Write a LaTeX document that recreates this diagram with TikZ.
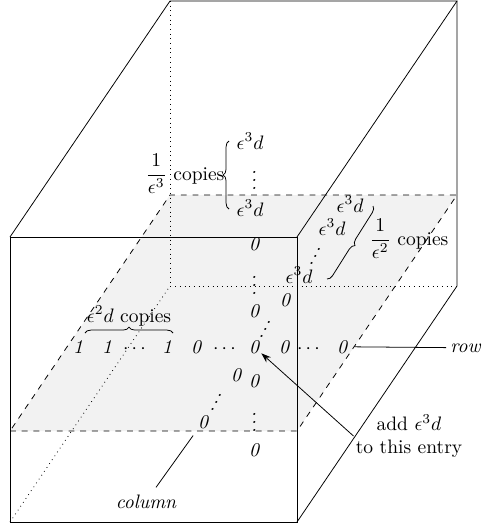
\documentclass[tikz,border=0pt]{standalone}
\usepackage{amsmath}
\usetikzlibrary{decorations.pathreplacing,arrows.meta}

\newcommand{\depthdots}{\hbox{.\kern-1.2pt\raise3.5pt\hbox{.}\kern-1.2pt\raise7pt\hbox{.}}}
\newcommand{\colvdots}{\vbox{\baselineskip4pt\lineskiplimit0pt\hbox{.}\hbox{.}\hbox{.}}}

\begin{document}
\begin{tikzpicture}[
    x=0.5128pt, y=-0.5128pt,
    cell/.style={anchor=base, inner sep=1pt, font=\itshape},
    lbl/.style={anchor=base, inner sep=1pt},
    hidden/.style={dotted},
    slab/.style={dashed},
    brace/.style={decorate, decoration={brace, amplitude=3pt}},
    arrow/.style={-{Stealth[length=5pt, width=3.5pt]}},
]
\useasboundingbox (0,0) rectangle (484,529);

% corners of the cube (front face, then back face)
\coordinate (fbl) at (10,522);
\coordinate (fbr) at (297,522);
\coordinate (ftr) at (297,237);
\coordinate (ftl) at (10,237);
\coordinate (bbl) at (170,286);
\coordinate (bbr) at (457,286);
\coordinate (btr) at (457,1);
\coordinate (btl) at (170,1);
% the slice
\coordinate (sfl) at (10,431);
\coordinate (sfr) at (297,431);
\coordinate (sbr) at (457,195);
\coordinate (sbl) at (170,195);

\fill[black!5] (sfl) -- (sfr) -- (sbr) -- (sbl) -- cycle;
\draw[hidden] (btl) -- (bbl) -- (bbr);
\draw[hidden] (fbl) -- (bbl);
\draw[slab] (sfl) -- (sfr) -- (sbr) -- (sbl) -- cycle;
\draw (fbl) rectangle (ftr);
\draw (ftl) -- (btl) -- (btr) -- (ftr);
\draw (btr) -- (bbr) -- (fbr);

% the row through the entry
\node[cell] (r1) at (78,353) {1};
\node[cell] (r2) at (107,353) {1};
\node[cell] (rd1) at (136,353) {$\cdots$};
\node[cell] (r3) at (167,353) {1};
\node[cell] (r4) at (196,353) {0};
\node[cell] (rd2) at (226,353) {$\cdots$};
\node[cell] (c0) at (254,353) {0};
\node[cell] (r5) at (284,353) {0};
\node[cell] (rd3) at (310,353) {$\cdots$};
\node[cell] (r6) at (342,353) {0};

% straight up and down
\node[cell] (u1) at (254,317) {0};
\node[cell] (ud1) at (254,294) {\colvdots};
\node[cell] (u2) at (254,250) {0};
\node[cell] (e1) at (250,216) {$\epsilon^3d$};
\node[cell] (ed1) at (254,189) {\colvdots};
\node[cell] (e2) at (250,149) {$\epsilon^3d$};
\node[cell] (l1) at (254,387) {0};
\node[cell] (ld1) at (254,431) {\colvdots};
\node[cell] (l2) at (254,456) {0};

% into the depth
\node[cell] (d1) at (350,212) {$\epsilon^3d$};
\node[cell] (d2) at (332,235) {$\epsilon^3d$};
\node[cell] (dd1) at (315,264) {\depthdots};
\node[cell] (d3) at (299,283) {$\epsilon^3d$};
\node[cell] (d4) at (285,306) {0};
\node[cell] (dd2) at (265,337) {\depthdots};
\node[cell] (d5) at (236,381) {0};
\node[cell] (dd3) at (216,410) {\depthdots};
\node[cell] (d6) at (203,428) {0};

% braces
\draw[brace] (229,209) -- (229,141);
\node[lbl] (vcopies) at (185,180) {$\dfrac{1}{\epsilon^3}$ copies};
\draw[brace] (373,206) -- (327,279);
\node[lbl] (dcopies) at (409,245) {$\dfrac{1}{\epsilon^2}$ copies};
\draw[brace] (85,333) -- (173,333);
\node[lbl] (rcopies) at (129,322) {$\epsilon^2d$ copies};

% labels
\node[cell, anchor=base west] (rowlbl) at (448,352) {row};
\draw[shorten <=3pt, shorten >=1pt] (r6) -- (rowlbl);
\node[cell] (collbl) at (146,508) {column};
\draw[shorten <=3pt, shorten >=3pt] (collbl) -- (d6);
\node[align=center, inner sep=1pt] (note) at (409,436) {add $\epsilon^3d$\\to this entry};
\draw[arrow] (note.west) -- (c0);
\end{tikzpicture}
\end{document}
